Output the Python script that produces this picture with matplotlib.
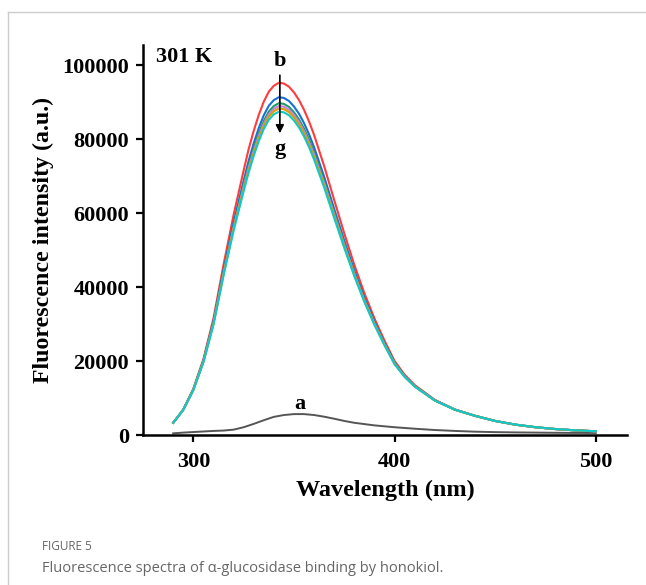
import numpy as np
import matplotlib.pyplot as plt
from matplotlib.lines import Line2D

# wavelength grid (nm)
wl = [290, 295, 300, 305, 310, 315, 320, 325, 327.5, 330, 332.5, 335, 337.5, 340, 342.5, 345,
      347.5, 350, 352.5, 355, 357.5, 360, 365, 370, 375, 380, 385, 390, 395, 400, 405, 410,
      420, 430, 440, 450, 460, 470, 480, 490, 500]

# spectra b..g
spec_b = [3300, 6900, 12500, 20500, 31500, 46000, 59500, 71500, 77300, 82200, 86500, 90100,
          92800, 94400, 95200, 95000, 94150, 92600, 90550, 87900, 84750, 81100, 72700, 63500,
          54500, 46000, 38300, 31500, 25500, 20000, 16300, 13500, 9500, 6900, 5200, 3800, 2800,
          2100, 1600, 1250, 1000]
spec_c = [3300, 6840, 12320, 20080, 30660, 44530, 57350, 68720, 74130, 78830, 82950, 86410,
          89000, 90530, 91300, 91100, 90290, 88800, 86840, 84300, 81270, 77780, 69810, 61080,
          52530, 44450, 37120, 30620, 24870, 19570, 16000, 13290, 9400, 6860, 5180, 3800, 2800,
          2100, 1600, 1250, 1000]
spec_d = [3300, 6820, 12250, 19900, 30310, 43920, 56460, 67560, 72820, 77430, 81480, 84870,
          87420, 88920, 89680, 89490, 88690, 87230, 85300, 82800, 79830, 76400, 68610, 60070,
          51720, 43810, 36630, 30260, 24610, 19400, 15870, 13200, 9360, 6840, 5180, 3790, 2800,
          2100, 1600, 1250, 1000]
spec_e = [3300, 6810, 12210, 19820, 30150, 43630, 56040, 67020, 72200, 76780, 80790, 84150,
          86680, 88170, 88920, 88730, 87940, 86490, 84570, 82100, 79160, 75750, 68050, 59600,
          51340, 43510, 36400, 30090, 24490, 19310, 15820, 13160, 9340, 6830, 5170, 3790, 2800,
          2100, 1600, 1250, 1000]
spec_f = [3300, 6800, 12180, 19750, 30000, 43380, 55680, 66540, 71660, 76200, 80190, 83520,
          86030, 87510, 88250, 88070, 87280, 85840, 83940, 81480, 78560, 75180, 67550, 59190,
          51000, 43250, 36200, 29940, 24380, 19240, 15760, 13130, 9330, 6820, 5170, 3790, 2800,
          2100, 1600, 1250, 1000]
spec_g = [3300, 6790, 12140, 19660, 29820, 43060, 55210, 65930, 70960, 75460, 79410, 82710,
          85190, 86660, 87390, 87210, 86430, 85010, 83120, 80690, 77800, 74450, 66920, 58660,
          50570, 42910, 35950, 29740, 24250, 19150, 15700, 13080, 9310, 6820, 5170, 3790, 2820,
          2120, 1620, 1270, 1020]

# spectrum a
wl_a = [290, 295, 300, 305, 310, 315, 320, 325, 330, 335, 340, 345, 350, 355, 360, 365, 370,
        375, 380, 390, 400, 410, 420, 430, 440, 450, 460, 470, 480, 490, 500]
spec_a = [450, 650, 800, 950, 1100, 1200, 1450, 2100, 3000, 4000, 4900, 5400, 5650, 5650, 5400,
          4950, 4400, 3800, 3300, 2600, 2100, 1700, 1350, 1100, 900, 780, 700, 650, 600, 570, 550]

spectra = [spec_b, spec_c, spec_d, spec_e, spec_f, spec_g]
colors = ['#ff3b3b', '#1a6fd6', '#1a9e6a', '#cc80dd', '#d9a000', '#10c8c8']

serif = 'Liberation Serif'

fig = plt.figure(figsize=(6.46, 5.85), dpi=100)
ax = fig.add_axes([0.2214, 0.2564, 0.7492, 0.6666])

ax.plot(wl_a, spec_a, color='#555555', lw=1.4)
for s, c in zip(spectra, colors):
    ax.plot(wl, s, color=c, lw=1.5)

ax.set_xlim(275, 515.5)
ax.set_ylim(0, 105400)
ax.set_xticks([300, 400, 500])
ax.set_yticks([0, 20000, 40000, 60000, 80000, 100000])

for side in ['top', 'right']:
    ax.spines[side].set_visible(False)
for side in ['left', 'bottom']:
    ax.spines[side].set_linewidth(1.8)
ax.tick_params(direction='out', length=5, width=1.6)
ax.tick_params(axis='x', pad=7)
ax.tick_params(axis='y', pad=5)
for lab in ax.get_xticklabels() + ax.get_yticklabels():
    lab.set_fontfamily(serif)
    lab.set_fontweight('bold')
    lab.set_fontsize(16)

ax.set_xlabel('Wavelength (nm)', fontfamily=serif, fontweight='bold', fontsize=17.5, labelpad=6)
ax.set_ylabel('Fluorescence intensity (a.u.)', fontfamily=serif, fontweight='bold',
              fontsize=17.2, labelpad=6)

ax.text(281.5, 102300, '301 K', fontfamily=serif, fontweight='bold', fontsize=16,
        ha='left', va='center')
ax.text(343, 101000, 'b', fontfamily=serif, fontweight='bold', fontsize=16, ha='center', va='center')
ax.text(343, 77200, 'g', fontfamily=serif, fontweight='bold', fontsize=16, ha='center', va='center')
ax.text(353, 8300, 'a', fontfamily=serif, fontweight='bold', fontsize=16, ha='center', va='center')
ax.annotate('', xy=(343, 80800), xytext=(343, 98000),
            arrowprops=dict(arrowstyle='-|>', color='k', lw=1.2, mutation_scale=12))

# page frame and caption
fig.add_artist(Line2D([8 / 646, 1], [1 - 12 / 585, 1 - 12 / 585], color='#cccccc', lw=1))
fig.add_artist(Line2D([8 / 646, 8 / 646], [0, 1 - 12 / 585], color='#cccccc', lw=1))
fig.text(42 / 646, 1 - 547 / 585, 'FIGURE 5', fontfamily='Open Sans', fontsize=8.5,
         color='#666666', va='center')
fig.text(42 / 646, 1 - 568 / 585, 'Fluorescence spectra of α-glucosidase binding by honokiol.',
         fontfamily='Open Sans', fontsize=10.5, color='#666666', va='center')

fig.savefig('out.png', dpi=100)
